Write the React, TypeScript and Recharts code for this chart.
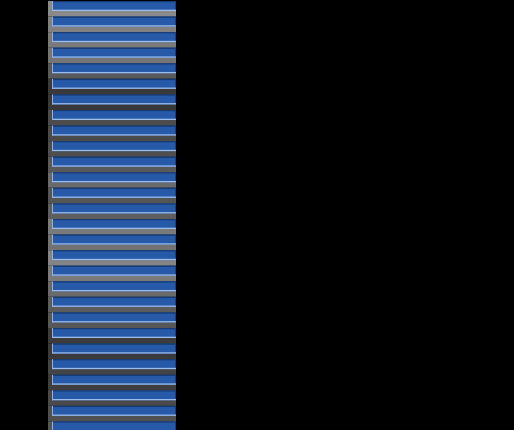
import React from 'react';
import { BarChart, Bar, XAxis, YAxis, Cell } from 'recharts';

// row labels (not shown in the picture, the axis is cropped away)
const rowNames = [
  'R1', 'R2', 'R3', 'R4', 'R5', 'R6', 'R7', 'R8', 'R9', 'R10',
  'R11', 'R12', 'R13', 'R14', 'R15', 'R16', 'R17', 'R18', 'R19', 'R20',
  'R21', 'R22', 'R23', 'R24', 'R25', 'R26', 'R27', 'R28'
];

// full row band (gray) and the blue bar, as [start, end] on the value axis
const bandEnd = [128, 128, 128, 128, 128, 128, 128, 128, 128, 128, 128, 128, 128, 128, 128, 128, 128, 128, 128, 128, 128, 128, 128, 128, 128, 128, 128, 128];
const barStart = [4, 4, 4, 4, 4, 4, 4, 4, 4, 4, 4, 4, 4, 4, 4, 4, 4, 4, 4, 4, 4, 4, 4, 4, 4, 4, 4, 4];
const barEnd = [128, 128, 128, 128, 128, 128, 128, 128, 128, 128, 128, 128, 128, 128, 128, 128, 128, 128, 128, 128, 128, 128, 128, 128, 128, 128, 128, 128];

// shade of the band behind each row
const rowShades = [
  '#8a8a8a', '#808080', '#7a7a7a', '#757575', '#5a5a5a', '#3a3a3a', '#383838',
  '#4c4c4c', '#4a4a4a', '#4e4e4e', '#595959', '#6a6a6a', '#555555', '#5e5e5e',
  '#7a7a7a', '#727272', '#848484', '#7a7a7a', '#6a6a6a', '#5c5c5c', '#575757',
  '#3c3c3c', '#3a3a3a', '#444444', '#3e3e3e', '#4a4a4a', '#505050', '#555555'
];

const data = rowNames.map((name, i) => ({
  name,
  band: [0, bandEnd[i]],
  bar: [barStart[i], barEnd[i]]
}));

const chartHeight = 436;
const bandPx = chartHeight / rowNames.length;

// blue bar with a bevelled edge: dark top/right, light bottom/left
function BevelBar(props: any) {
  const { x, y, width, height } = props;
  if (width <= 0 || height <= 0) return null;
  return (
    <g>
      <rect x={x} y={y} width={width} height={height} fill="#2659a8" />
      <rect x={x} y={y} width={width} height={1.2} fill="#163a72" />
      <rect x={x + width - 1} y={y} width={1} height={height} fill="#1a3f7a" />
      <rect x={x} y={y + height - 1.3} width={width} height={1.3} fill="#9cbcec" />
      <rect x={x} y={y} width={1} height={height} fill="#8fb0e2" />
    </g>
  );
}

export default function App() {
  return (
    <div style={{ position: 'absolute', left: 0, top: 0, width: 514, height: 430, overflow: 'hidden', background: '#000' }}>
      <div style={{ marginTop: -2 }}>
        <BarChart
          width={514}
          height={chartHeight}
          data={data}
          layout="vertical"
          margin={{ top: 0, right: 338, bottom: 0, left: 48 }}
          barCategoryGap={0}
          barGap={-bandPx}
        >
          <XAxis type="number" domain={[0, 128]} hide />
          <YAxis type="category" dataKey="name" hide />
          <Bar dataKey="band" barSize={bandPx} isAnimationActive={false}>
            {data.map((d, i) => (
              <Cell key={d.name} fill={rowShades[i]} />
            ))}
          </Bar>
          <Bar dataKey="bar" barSize={10} shape={BevelBar} isAnimationActive={false} />
        </BarChart>
      </div>
    </div>
  );
}
